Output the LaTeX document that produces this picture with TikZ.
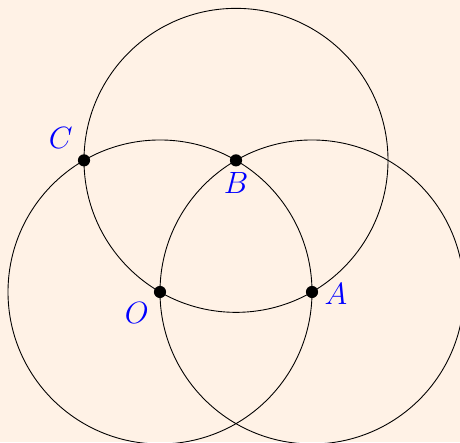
\documentclass[tikz,border=0pt]{standalone}
\usepackage{amsmath,amssymb}
\usepackage{tikz}
\usetikzlibrary{calc}

\definecolor{sfondo}{RGB}{255,242,230}

\begin{document}
\begin{tikzpicture}[
		punto/.style={circle, fill=black, inner sep=0pt, minimum size=0.24cm},
		etichetta/.style={text=blue, font=\LARGE, inner sep=0pt}
	]
			% Definizione dei punti (triangolo equilatero di lato 3)
			\coordinate (O) at (0,0);
			\coordinate (A) at (3,0);
			\coordinate (B) at (1.5, 2.598);
			\coordinate (C) at (-1.5, 2.598);
			
			% Sfondo e ritaglio
			\fill[sfondo] (-3.158,-2.961) rectangle (5.921,5.763);
			\clip (-3.158,-2.961) rectangle (5.921,5.763);
			
			% Cerchi di raggio 3 centrati in O, A, B
			\draw[line width=0.5pt] (O) circle (3);
			\draw[line width=0.5pt] (A) circle (3);
			\draw[line width=0.5pt] (B) circle (3);
			
			% Punti
			\node[punto] (pO) at (O) {};
			\node[punto] (pA) at (A) {};
			\node[punto] (pB) at (B) {};
			\node[punto] (pC) at (C) {};
			
			% Etichette
			\node[etichetta] (lO) at ($(O)+(-0.46,-0.42)$) {$O$};
			\node[etichetta] (lA) at ($(A)+(0.47,-0.04)$) {$A$};
			\node[etichetta] (lB) at ($(B)+(0,-0.44)$) {$B$};
			\node[etichetta] (lC) at ($(C)+(-0.46,0.44)$) {$C$};
		\end{tikzpicture}
\end{document}
